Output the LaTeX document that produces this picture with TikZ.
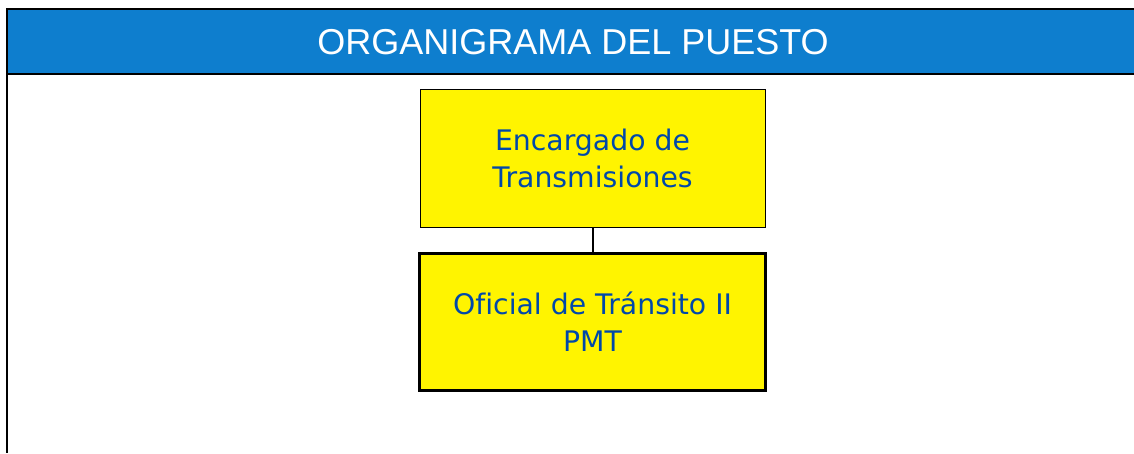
\documentclass[tikz,border=0pt]{standalone}
\usepackage{fontspec}
\setmainfont{Liberation Sans}
\newfontfamily\boxfont[Ligatures=NoCommon]{DejaVu Sans}
\definecolor{hdrblue}{RGB}{14,126,206}
\definecolor{txtblue}{RGB}{0,72,170}
\definecolor{boxyellow}{RGB}{255,244,0}
\begin{document}
\begin{tikzpicture}[x=1pt,y=-1pt,
  orgbox/.style={draw=black, fill=boxyellow, minimum width=345pt, minimum height=138pt,
     align=center, font=\boxfont\fontsize{28.3}{37}\selectfont, text=txtblue, inner sep=0pt},
  link/.style={draw=black, line width=2pt}]
\useasboundingbox (0,0) rectangle (1134,453);
\fill[hdrblue] (6.5,9) rectangle (1134,74);
\draw[line width=2pt] (1134,9) -- (6.5,9) -- (6.5,453);
\draw[line width=2pt] (6.5,74) -- (1134,74);
\node[text=white, font=\fontsize{36}{38}\selectfont] (title) at (573,42) {ORGANIGRAMA DEL PUESTO};
\node[orgbox, line width=0.8pt] (enc) at (592.5,158) {Encargado de\\Transmisiones};
\node[orgbox, line width=3pt, minimum width=346pt, minimum height=137pt] (ofi) at (592.5,321.5) {Oficial de Tránsito II\\PMT};
\draw[link] (enc.south) -- (ofi.north);
\end{tikzpicture}
\end{document}
